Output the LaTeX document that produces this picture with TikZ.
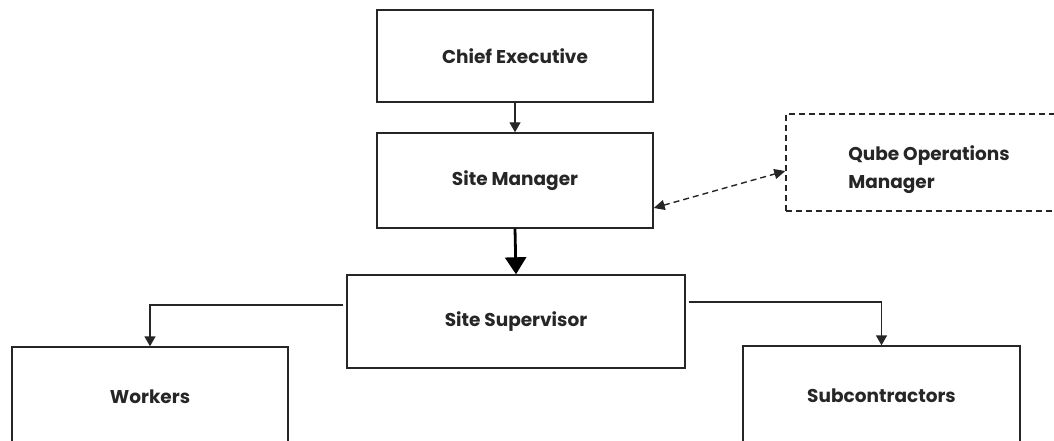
\documentclass[tikz,border=0pt]{standalone}
\usepackage{fontspec}
\setmainfont{Poppins}
\usetikzlibrary{arrows.meta}
\begin{document}
\begin{tikzpicture}[x=1pt,y=-1pt,
  boxtext/.style={inner sep=0pt, font=\bfseries\fontsize{18.5}{28}\selectfont, text=black!85},
  box/.style={boxtext, draw=black!85, line width=1.4pt, rectangle},
  arr/.style={draw=black!85, line width=1.4pt, -{Triangle[length=10pt,width=11pt]}},
  thickarr/.style={draw=black, line width=2.8pt, -{Triangle[length=17pt,width=21pt]}},
  dasharr/.style={draw=black!85, line width=1.4pt, dash pattern=on 6pt off 4pt,
    {Triangle[length=11pt,width=10pt]}-{Triangle[length=11pt,width=10pt]}}
]
\useasboundingbox (0,0) rectangle (1054,441);
\clip (0,0) rectangle (1054,441);
\fill[white] (0,0) rectangle (1054,441);

\node[box, minimum width=276pt, minimum height=92pt] (ce) at (515,56) {Chief Executive};
\node[box, minimum width=276pt, minimum height=95pt] (sm) at (515,180.5) {Site Manager};
\node[box, minimum width=338pt, minimum height=93pt] (sup) at (516,321.5) {Site Supervisor};
\node[box, minimum width=276pt, minimum height=100pt] (wk) at (150,397) {Workers};
\node[box, minimum width=277pt, minimum height=100pt] (sub) at (881.5,396) {Subcontractors};
\node[box, dash pattern=on 6pt off 4pt, minimum width=286pt, minimum height=97pt] (qube) at (929,162.5) {};
\node[boxtext, align=left] (qubetxt) at ([yshift=-7pt]qube.center) {Qube Operations\\Manager};

\draw[arr] (ce.south) -- (sm.north);
\draw[thickarr] (sm.south) -- (sup.north);
\draw[arr, shorten <=3pt] ([yshift=16.5pt]sup.west) -| (wk.north);
\draw[arr, shorten <=3pt] ([yshift=19.5pt]sup.east) -| (sub.north);
\draw[dasharr] ([yshift=-27.5pt]sm.east) -- ([yshift=-8.5pt]qube.west);
\end{tikzpicture}
\end{document}
